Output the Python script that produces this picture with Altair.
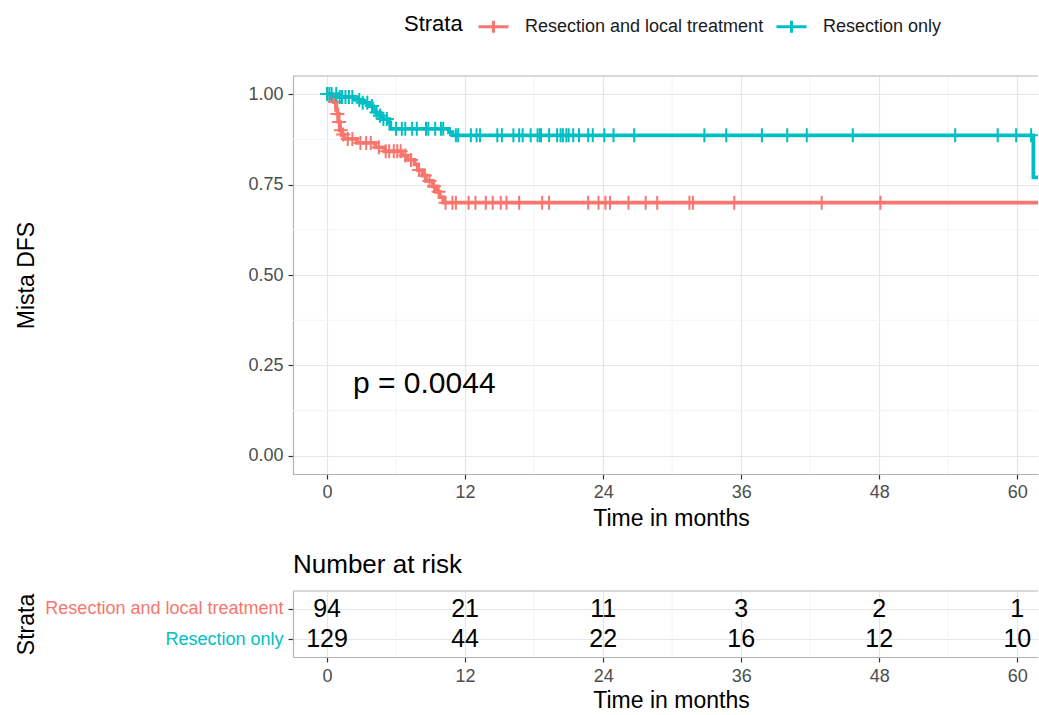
import altair as alt
import pandas as pd

RED = "#F8766D"
TEAL = "#00BFC4"
S1 = "Resection and local treatment"
S2 = "Resection only"

# Kaplan-Meier steps (time in months, survival)
red_times = [0, 0.3, 0.6, 0.8, 0.9, 1.0, 1.1, 1.3, 1.5, 2.6, 4.2, 5.0, 6.5, 7.0, 7.6, 7.9, 8.3, 8.6, 9.2, 9.5, 9.8, 10.1]
red_surv = [1.0, 0.989, 0.978, 0.956, 0.945, 0.923, 0.90, 0.888, 0.876, 0.865, 0.853, 0.842, 0.83, 0.818, 0.806, 0.79, 0.775, 0.76, 0.745, 0.73, 0.715, 0.70]
red_censor = [0, 0.7, 0.9, 1.05, 1.2, 1.4, 1.8, 2.2, 2.9, 3.4, 3.8, 4.5, 5.1, 5.4, 5.8, 6.1, 6.4, 6.8, 7.3, 8.0, 8.5, 8.9,
              9.3, 9.7, 10.3, 10.9, 11.2, 12.3, 12.9, 13.8, 14.4, 15.1, 15.6, 16.7, 18.7, 19.3, 22.7, 23.6, 24.2, 24.6,
              26.2, 27.7, 28.7, 31.5, 31.8, 35.4, 43.0, 48.1]

teal_times = [0, 0.9, 2.5, 3.1, 3.65, 4.0, 4.2, 4.6, 4.8, 5.4, 5.5, 10.6, 10.9, 61.4]
teal_surv = [1.0, 0.992, 0.984, 0.976, 0.967, 0.958, 0.949, 0.94, 0.931, 0.922, 0.904, 0.895, 0.886, 0.77]
teal_censor = [0, 0.2, 0.4, 0.8, 1.1, 1.3, 1.6, 1.9, 2.2, 2.8, 3.1, 3.5, 3.9, 4.3, 4.6, 4.9, 5.2, 6.0, 6.5, 6.8,
               7.4, 7.8, 8.6, 8.8, 9.4, 9.9, 10.1, 11.2, 11.4, 12.5, 13.0, 13.3, 14.8, 15.2, 16.2, 16.7, 17.0, 17.7,
               18.3, 18.5, 18.6, 19.3, 20.0, 20.3, 20.5, 20.8, 21.0, 21.4, 21.9, 22.7, 23.1, 24.1, 24.9, 26.7, 32.8,
               34.7, 37.8, 40.0, 41.7, 45.7, 54.6, 58.3, 59.9, 61.2]
end_time = 62

risk_times = [0, 12, 24, 36, 48, 60]
risk_red = [94, 21, 11, 3, 2, 1]
risk_teal = [129, 44, 22, 16, 12, 10]

x_ticks = [0, 12, 24, 36, 48, 60]
x_minor = [6, 18, 30, 42, 54]
y_ticks = [0, 0.25, 0.5, 0.75, 1.0]
y_minor = [0.125, 0.375, 0.625, 0.875]
pval_text = "p = 0.0044"
pval_pos = (2.25, 0.2)


def surv_at(times, surv, t):
    s = surv[0]
    for ti, si in zip(times, surv):
        if ti <= t:
            s = si
    return s


line_rows = []
for name, ts, ss in [(S1, red_times, red_surv), (S2, teal_times, teal_surv)]:
    for t, s in zip(ts, ss):
        line_rows.append({"strata": name, "time": t, "surv": s})
    line_rows.append({"strata": name, "time": end_time, "surv": ss[-1]})
line_df = pd.DataFrame(line_rows)

cens_rows = []
for name, ts, ss, cs in [(S1, red_times, red_surv, red_censor), (S2, teal_times, teal_surv, teal_censor)]:
    for c in cs:
        cens_rows.append({"strata": name, "time": c, "surv": surv_at(ts, ss, c)})
cens_df = pd.DataFrame(cens_rows)

risk_rows = []
for name, vals in [(S1, risk_red), (S2, risk_teal)]:
    for t, n in zip(risk_times, vals):
        risk_rows.append({"strata": name, "time": t, "n": str(n)})
risk_df = pd.DataFrame(risk_rows)

W = 745
H = 398
RH = 66
MAJOR = "#e6e6e6"
MINOR = "#f3f3f3"

x_scale = alt.Scale(domain=[-2.96, 61.8], nice=False, zero=False)
y_scale = alt.Scale(domain=[-0.05, 1.05], nice=False, zero=False)
color_scale = alt.Scale(domain=[S1, S2], range=[RED, TEAL])

x_axis = alt.Axis(values=x_ticks, title="Time in months", titleX=378, titleAlign="center",
                  labelPadding=4, titlePadding=6)
y_axis = alt.Axis(values=y_ticks, format=".2f", title="Mista DFS", titleX=-267, titleY=H / 2,
                  titleAlign="center", titleBaseline="middle", titleAngle=270, labelPadding=5)

X = alt.X("time:Q", scale=x_scale, axis=x_axis)
Y = alt.Y("surv:Q", scale=y_scale, axis=y_axis)

minor_x = alt.Chart(pd.DataFrame({"time": x_minor})).mark_rule(color=MINOR, strokeWidth=1).encode(x=X)
minor_y = alt.Chart(pd.DataFrame({"surv": y_minor})).mark_rule(color=MINOR, strokeWidth=1).encode(y=Y)
top_border = alt.Chart(pd.DataFrame({"a": [0]})).mark_rule(color="#b3b3b3", strokeWidth=1.2).encode(
    x=alt.value(0), x2=alt.value(W), y=alt.value(0))

lines = alt.Chart(line_df).mark_line(interpolate="step-after", strokeWidth=3.8, clip=True).encode(
    x=X, y=Y,
    color=alt.Color("strata:N", scale=color_scale, legend=alt.Legend(
        title="Strata", orient="none", legendX=111, legendY=-66, direction="horizontal",
        titleOrient="left", symbolType="M-1,0L1,0M0,-0.4L0,0.4", symbolSize=900,
        symbolStrokeWidth=3, labelFontSize=18, titleFontSize=22, labelColor="#1a1a1a",
        titleColor="#000000", labelOffset=15, columnPadding=6, titlePadding=14,
        titleFontWeight="normal", titleBaseline="middle", labelLimit=500)))

censors = alt.Chart(cens_df).mark_point(shape="M-1,0L1,0M0,-1L0,1", size=196, strokeWidth=2,
                                        filled=False, opacity=1, clip=True).encode(
    x=X, y=Y, color=alt.Color("strata:N", scale=color_scale, legend=None))

pval = alt.Chart(pd.DataFrame({"time": [pval_pos[0]], "surv": [pval_pos[1]], "label": [pval_text]})).mark_text(
    align="left", baseline="middle", fontSize=30, color="#000000").encode(x=X, y=Y, text="label:N")

main = alt.layer(minor_x, minor_y, top_border, lines, censors, pval).properties(width=W, height=H)

# Risk table
rx_axis = alt.Axis(values=x_ticks, title="Time in months", titleX=378, titleAlign="center",
                   labelPadding=5, titlePadding=4)
ry_axis = alt.Axis(title="Strata", titleX=-267, titleY=RH / 2, titleAlign="center", titleBaseline="middle",
                   titleAngle=270, labelPadding=5, labelFontSize=18, labelLimit=500,
                   labelColor={"condition": {"test": "datum.value == 'Resection only'", "value": TEAL},
                               "value": RED})
RX = alt.X("time:Q", scale=x_scale, axis=rx_axis)
RY = alt.Y("strata:N", scale=alt.Scale(type="point", domain=[S1, S2], padding=0.565), axis=ry_axis)

r_minor = alt.Chart(pd.DataFrame({"time": x_minor})).mark_rule(color=MINOR, strokeWidth=1).encode(x=RX)
r_top = alt.Chart(pd.DataFrame({"a": [0]})).mark_rule(color="#b3b3b3", strokeWidth=1.2).encode(
    x=alt.value(0), x2=alt.value(W), y=alt.value(0))
r_text = alt.Chart(risk_df).mark_text(fontSize=25, baseline="middle", align="center", color="#000000").encode(
    x=RX, y=RY, text="n:N")

risk = alt.layer(r_minor, r_top, r_text).properties(
    width=W, height=RH,
    title=alt.TitleParams("Number at risk", anchor="start", fontSize=26, fontWeight="normal",
                          color="#000000", offset=12, frame="group"))

chart = alt.vconcat(main, risk, spacing=22).properties(
    padding={"left": 15, "top": 10, "right": 0, "bottom": 0}
).configure(font="Liberation Sans").configure_view(strokeWidth=0, strokeOpacity=0).configure_axis(
    domainColor="#b3b3b3", domainWidth=1.2, tickColor="#333333", tickSize=5, tickWidth=1.2,
    labelColor="#4d4d4d", labelFontSize=18, titleFontSize=23, titleColor="#000000",
    titleFontWeight="normal", gridColor=MAJOR, gridWidth=1.2, grid=True
)

chart.save("out.html", embed_options={"renderer": "svg", "actions": False})
